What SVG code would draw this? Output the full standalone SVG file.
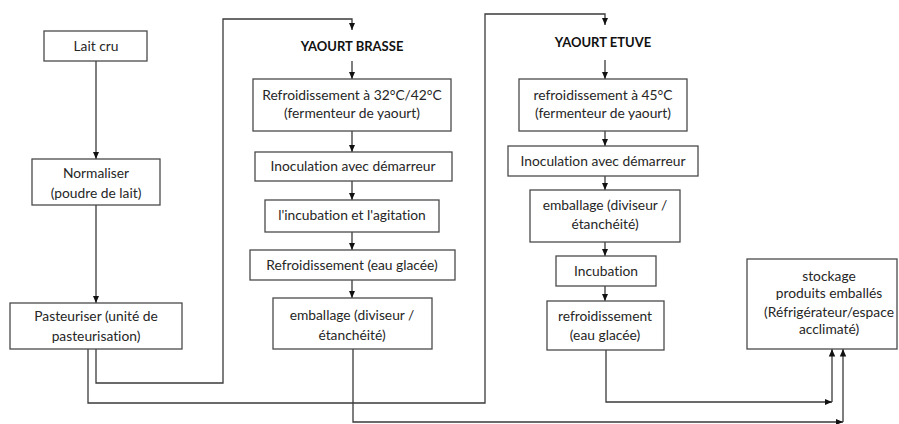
<svg xmlns="http://www.w3.org/2000/svg" width="899" height="424" viewBox="0 0 899 424">
  <style>
    .box { fill: #ffffff; stroke: #4a4a4a; stroke-width: 1.3; }
    .lbl { font-family: Lato, "Liberation Sans", sans-serif; font-size: 13.8px; fill: #262626; text-anchor: middle; font-variant-ligatures: none; }
    .hdr { font-family: Lato, "Liberation Sans", sans-serif; font-size: 13px; font-weight: bold; fill: #111; text-anchor: middle; }
    .wire { fill: none; stroke: #3a3a3a; stroke-width: 1.3; }
  </style>
  <defs>
    <marker id="arrow" markerUnits="userSpaceOnUse" markerWidth="8" markerHeight="8" viewBox="0 0 8 8" refX="7.5" refY="4" orient="auto">
      <path d="M0,0.8 L7.5,4 L0,7.2 Z" fill="#111"/>
    </marker>
  </defs>
  <rect width="899" height="424" fill="#ffffff"/>

  <!-- connectors -->
  <g id="connectors">
    <path class="wire" d="M96,61 V159" marker-end="url(#arrow)"/>
    <path class="wire" d="M96,205 V303" marker-end="url(#arrow)"/>
    <path class="wire" d="M96,349 V383 H223 V19 H352 V30" marker-end="url(#arrow)"/>
    <path class="wire" d="M88,349 V403 H485 V14 H605 V25" marker-end="url(#arrow)"/>

    <path class="wire" d="M352,61 V79" marker-end="url(#arrow)"/>
    <path class="wire" d="M352,131 V152" marker-end="url(#arrow)"/>
    <path class="wire" d="M352,181 V200" marker-end="url(#arrow)"/>
    <path class="wire" d="M352,232 V250" marker-end="url(#arrow)"/>
    <path class="wire" d="M352,280 V298" marker-end="url(#arrow)"/>
    <path class="wire" d="M353,349 V422 H843" marker-end="url(#arrow)"/>
    <path class="wire" d="M843,422 V349" marker-end="url(#arrow)"/>

    <path class="wire" d="M605,60 V79" marker-end="url(#arrow)"/>
    <path class="wire" d="M605,131 V146" marker-end="url(#arrow)"/>
    <path class="wire" d="M605,176 V190" marker-end="url(#arrow)"/>
    <path class="wire" d="M605,242 V256" marker-end="url(#arrow)"/>
    <path class="wire" d="M605,286 V301" marker-end="url(#arrow)"/>
    <path class="wire" d="M606,350 V402 H832" marker-end="url(#arrow)"/>
    <path class="wire" d="M832,402 V349" marker-end="url(#arrow)"/>
  </g>

  <!-- raw milk line -->
  <g id="lait-cru">
    <rect class="box" x="44" y="31" width="103" height="30"/>
    <text class="lbl" x="96" y="51">Lait cru</text>
  </g>
  <g id="normaliser">
    <rect class="box" x="32" y="159" width="128" height="46"/>
    <text class="lbl" x="96" y="178">Normaliser</text>
    <text class="lbl" x="96" y="198">(poudre de lait)</text>
  </g>
  <g id="pasteuriser">
    <rect class="box" x="10" y="303" width="172" height="46"/>
    <text class="lbl" x="96" y="321">Pasteuriser (unité de</text>
    <text class="lbl" x="96" y="341">pasteurisation)</text>
  </g>

  <!-- stirred yoghurt -->
  <g id="yaourt-brasse">
    <text class="hdr" x="352" y="51">YAOURT BRASSE</text>
  </g>
  <g id="brasse-refroidissement">
    <rect class="box" x="253" y="79" width="198" height="52"/>
    <text class="lbl" x="352" y="100">Refroidissement à 32°C/42°C</text>
    <text class="lbl" x="352" y="118">(fermenteur de yaourt)</text>
  </g>
  <g id="brasse-inoculation">
    <rect class="box" x="255" y="152" width="197" height="29"/>
    <text class="lbl" x="353" y="171">Inoculation avec démarreur</text>
  </g>
  <g id="brasse-incubation">
    <rect class="box" x="265" y="200" width="174" height="32"/>
    <text class="lbl" x="352" y="220">l'incubation et l'agitation</text>
  </g>
  <g id="brasse-eau-glacee">
    <rect class="box" x="250" y="250" width="205" height="30"/>
    <text class="lbl" x="352" y="270">Refroidissement (eau glacée)</text>
  </g>
  <g id="brasse-emballage">
    <rect class="box" x="273" y="298" width="159" height="51"/>
    <text class="lbl" x="352" y="320">emballage (diviseur /</text>
    <text class="lbl" x="352" y="340">étanchéité)</text>
  </g>

  <!-- set yoghurt -->
  <g id="yaourt-etuve">
    <text class="hdr" x="603" y="47">YAOURT ETUVE</text>
  </g>
  <g id="etuve-refroidissement">
    <rect class="box" x="519" y="79" width="168" height="52"/>
    <text class="lbl" x="603" y="100">refroidissement à 45°C</text>
    <text class="lbl" x="603" y="118">(fermenteur de yaourt)</text>
  </g>
  <g id="etuve-inoculation">
    <rect class="box" x="508" y="146" width="190" height="30"/>
    <text class="lbl" x="603" y="166">Inoculation avec démarreur</text>
  </g>
  <g id="etuve-emballage">
    <rect class="box" x="530" y="190" width="150" height="52"/>
    <text class="lbl" x="605" y="210">emballage (diviseur /</text>
    <text class="lbl" x="605" y="229">étanchéité)</text>
  </g>
  <g id="etuve-incubation">
    <rect class="box" x="556" y="256" width="100" height="30"/>
    <text class="lbl" x="606" y="276">Incubation</text>
  </g>
  <g id="etuve-eau-glacee">
    <rect class="box" x="547" y="301" width="117" height="49"/>
    <text class="lbl" x="605" y="321">refroidissement</text>
    <text class="lbl" x="605" y="340">(eau glacée)</text>
  </g>

  <!-- storage -->
  <g id="stockage">
    <rect class="box" x="747" y="259" width="150" height="90"/>
    <text class="lbl" x="829" y="281">stockage</text>
    <text class="lbl" x="829" y="298">produits emballés</text>
    <text class="lbl" x="829" y="317">(Réfrigérateur/espace</text>
    <text class="lbl" x="829" y="334">acclimaté)</text>
  </g>
</svg>
